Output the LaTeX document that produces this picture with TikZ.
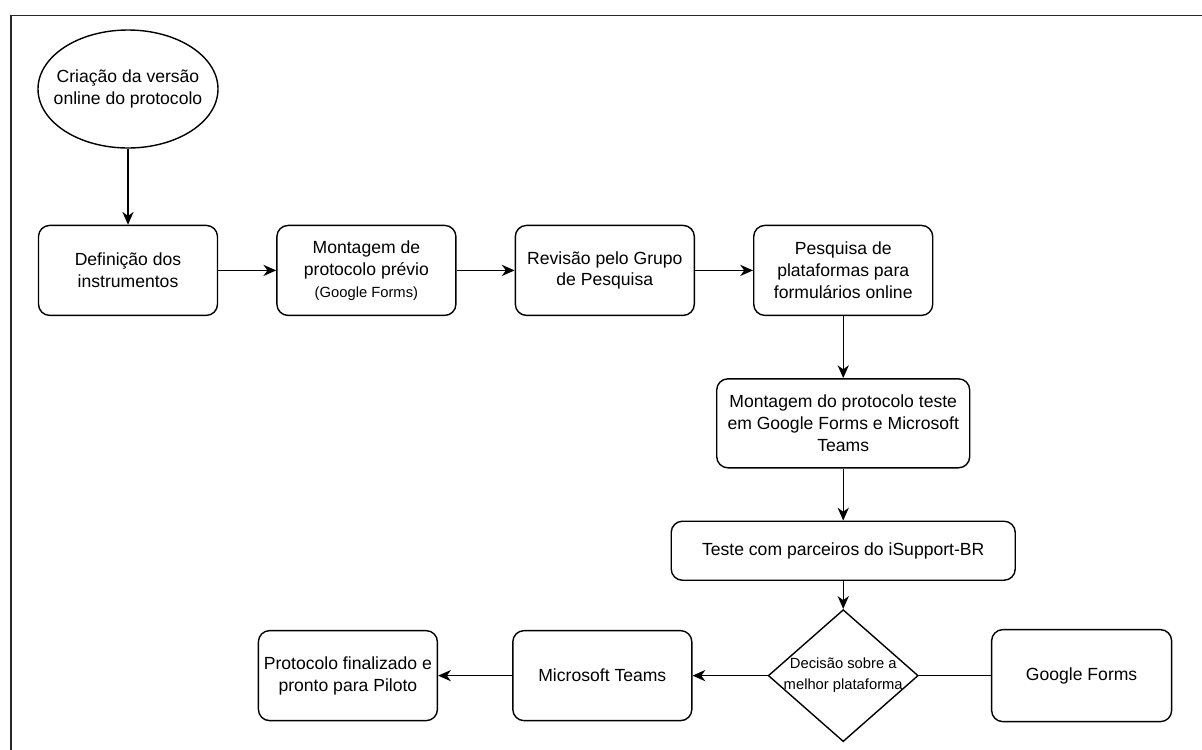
\documentclass[tikz,border=0pt]{standalone}
\usepackage{fontspec}
\setmainfont{Liberation Sans}
\usetikzlibrary{
    shapes.geometric,
    arrows.meta,
    positioning,
}
\tikzset{
    startstop/.style = {
        ellipse,
        minimum width=4.5cm,
        minimum height=2.95cm,
        inner sep=0pt,
        line width=1pt,
        draw,
    },
    process/.style = {
        rectangle,
        rounded corners=0.28cm,
        minimum width=4.475cm,
        minimum height=2.25cm,
        inner sep=0pt,
        align=center,
        line width=1pt,
        draw,
    },
    decision/.style = {
        diamond,
        aspect=1.136,
        minimum width=3.75cm,
        minimum height=3.3cm,
        inner sep=0pt,
        line width=1pt,
        draw,
    },
}
\tikzstyle{arrow} = [
    line width=1pt,
    -{Stealth[length=3.2mm,width=2.8mm,inset=1mm]}
]
\newcommand{\smalltxt}{\fontsize{10.5}{15}\selectfont}

\begin{document}
\begin{tikzpicture}[]
        \tikzstyle{every node}=[font=\fontsize{12.5}{15.5}\selectfont]
        \useasboundingbox (0,0) rectangle (30.05,-18.725);
        \draw [line width=1.1pt, black!85] (0.275,-0.39) rectangle (31,-20);

        \node [startstop, label={[align=center]center:Criação da versão\\online do protocolo}] (start) at (3.2,-2.225)
        {};

        \node [process, below = 1.9cm of start] (instrumentos)
        {Definição dos\\instrumentos};

        \node [process, right = 1.45cm of instrumentos] (previo)
        {Montagem de\\protocolo prévio\\{\smalltxt (Google Forms)}};

        \node [process, right = 1.45cm of previo] (revisao)
        {Revisão pelo Grupo\\de Pesquisa};

        \node [process, right = 1.45cm of revisao] (pesquisa)
        {Pesquisa de\\plataformas para\\formulários online};

        \node [process, below = 1.55cm of pesquisa, minimum width=6.325cm, minimum height=2.225cm] (montagem)
        {Montagem do protocolo teste\\em Google Forms e Microsoft\\Teams};

        \node [process, below = 1.3cm of montagem, minimum width=8.6cm, minimum height=1.475cm] (teste)
        {Teste com parceiros do iSupport-BR};

        \node [decision, below = 0.7cm of teste, label={[align=center, font=\smalltxt]center:Decisão sobre a\\melhor plataforma}] (decisao)
        {};

        \node [process, left = 1.875cm of decisao] (msteams)
        {Microsoft Teams};

        \node [process, left = 1.85cm of msteams] (final)
        {Protocolo finalizado e\\pronto para Piloto};

        \node [process, right = 1.8cm of decisao, minimum width=4.5cm, minimum height=2.3cm] (gforms)
        {Google Forms};

        \draw [arrow] (start) -- (instrumentos);
        \draw [arrow] (instrumentos) -- (previo);
        \draw [arrow] (previo) -- (revisao);
        \draw [arrow] (revisao) -- (pesquisa);
        \draw [arrow] (pesquisa) -- (montagem);
        \draw [arrow] (montagem) -- (teste);
        \draw [arrow] (teste) -- (decisao);
        \draw [arrow] (decisao) -- (msteams);
        \draw [arrow] (msteams) -- (final);
        \draw [line width=1pt] (gforms) -- (decisao);

    \end{tikzpicture}
\end{document}
